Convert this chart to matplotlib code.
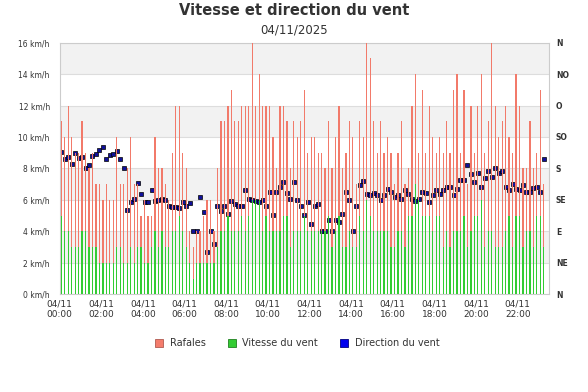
import numpy as np
import pandas as pd
import matplotlib
matplotlib.use("Agg")
import matplotlib.pyplot as plt
import matplotlib.dates as mdates
from matplotlib.lines import Line2D

# --- Données (lecture du graphique, pas de 10 min) ----------------------------
rafales = [11, 10, 12, 10, 9, 9, 11, 9, 8, 9, 7, 7, 6, 7, 6, 6, 10, 7, 7, 8, 10, 7, 7, 5, 6, 5, 5, 10,
           8, 8, 7, 6, 9, 12, 12, 9, 8, 4, 3, 4, 4, 5, 6, 6, 4, 8, 11, 11, 12, 13, 11, 11, 12, 12, 12, 16,
           12, 14, 12, 12, 12, 10, 8, 12, 12, 11, 8, 11, 10, 11, 13, 9, 10, 10, 9, 9, 8, 11, 8, 10, 12, 8, 9, 11,
           10, 7, 11, 10, 16, 15, 11, 9, 11, 9, 10, 9, 7, 9, 11, 7, 8, 12, 14, 9, 13, 9, 12, 10, 9, 10, 9,
           11, 9, 13, 14, 9, 13, 7, 12, 9, 12, 14, 9, 11, 16, 12, 10, 11, 12, 10, 9, 14, 12, 8, 8, 11, 8, 9, 13, 7]

vitesse = [5, 4, 4, 3, 3, 3, 4, 4, 3, 3, 3, 2, 2, 2, 2, 2, 3, 3, 2, 2, 3, 2, 3, 3, 2, 2, 3, 4,
           3, 4, 3, 3, 4, 4, 5, 4, 3, 2, 1, 2, 2, 2, 2, 2, 2, 3, 4, 4, 5, 4, 4, 4, 5, 4, 5, 6,
           6, 6, 4, 5, 4, 4, 4, 4, 5, 5, 3, 4, 4, 4, 5, 4, 4, 4, 4, 4, 4, 5, 3, 4, 5, 3, 3, 4,
           3, 3, 5, 4, 6, 5, 4, 4, 4, 4, 4, 3, 3, 4, 4, 3, 5, 5, 7, 6, 5, 5, 5, 4, 5, 5, 3,
           4, 3, 4, 4, 4, 5, 3, 4, 5, 5, 6, 3, 4, 4, 3, 3, 3, 4, 5, 3, 5, 5, 3, 4, 4, 3, 5, 5, 3]

direction = [204, 194, 196, 187, 202, 195, 197, 181, 185, 198, 201, 206, 211, 193, 199, 201, 205, 194, 181, 121,
             132, 137, 159, 143, 132, 132, 149, 133,
             135, 137, 135, 126, 125, 125, 123, 132, 127, 131, 90, 90, 139, 118, 61, 90, 72, 126, 119, 127,
             115, 133, 129, 127, 126, 149, 137, 135,
             133, 132, 135, 127, 146, 113, 146, 153, 160, 145, 137, 160, 135, 127, 114, 132, 101, 127, 129, 90,
             90, 107, 90, 106, 104, 115, 146, 135,
             90, 127, 156, 162, 143, 142, 145, 142, 135, 142, 150, 146, 139, 142, 136, 149, 143, 136, 133, 136,
             146, 145, 132, 142, 149, 143, 149,
             153, 154, 142, 150, 163, 163, 185, 172, 161, 173, 153, 166, 177, 168, 181, 174, 177, 154, 149, 158,
             150, 149, 156, 146, 147, 152, 153, 146, 194]

dir_labels = ["N", "NE", "E", "SE", "S", "SO", "O", "NO", "N"]

heures = pd.date_range("2025-11-04 00:05", periods=len(rafales), freq="10min")

# --- Figure --------------------------------------------------------------------
fig = plt.figure(figsize=(5.88, 3.92), dpi=100)
ax = fig.add_axes([0.1012, 0.2492, 0.8325, 0.6421])

# bandes grises alternées
for y0 in range(2, 16, 4):
    ax.axhspan(y0, y0 + 2, color="#f2f2f2", zorder=0, lw=0)
for y in range(0, 17, 2):
    ax.axhline(y, color="#dddddd", lw=0.8, zorder=0.5)

w = 0.06 / 24
ax.plot(heures, np.array(direction) / 22.5, ls="none", marker="s", ms=2.6,
        mfc="#10109a", mec="black", mew=0.5, zorder=2)
ax.bar(heures, rafales, width=w, color="#f27a6a", zorder=3)
ax.bar(heures, vitesse, width=w, color="#33cc33", zorder=4)

ax.set_ylim(0, 16)
ax.set_xlim(pd.Timestamp("2025-11-04 00:00"), pd.Timestamp("2025-11-04 23:30"))
ax.set_yticks(range(0, 17, 2))
ax.set_yticklabels([f"{v} km/h" for v in range(0, 17, 2)], fontsize=5.5, color="#333333")
ax.xaxis.set_major_locator(mdates.HourLocator(byhour=range(0, 24, 2)))
ax.xaxis.set_major_formatter(mdates.DateFormatter("%d/%m\n%H:%M"))
ax.tick_params(axis="x", length=0, pad=4, labelsize=6.5, labelcolor="#333333")
ax.tick_params(axis="y", length=0, pad=7)
for s in ax.spines.values():
    s.set_color("#cccccc")
    s.set_linewidth(0.8)

sec = ax.secondary_yaxis("right", functions=(lambda k: k * 22.5, lambda d: d / 22.5))
sec.set_yticks(range(0, 361, 45))
sec.set_yticklabels(dir_labels, fontsize=5.5, color="#333333", fontweight="bold")
sec.tick_params(length=0, pad=5)
sec.spines["right"].set_visible(False)

fig.text(0.5, 0.972, "Vitesse et direction du vent", ha="center", va="center",
         fontsize=10.5, fontweight="bold", color="#333333")
fig.text(0.5, 0.923, "04/11/2025", ha="center", va="center", fontsize=8.5, color="#333333")

handles = [
    Line2D([], [], ls="none", marker="s", ms=6, mfc="#f47c6c", mec="#b05a50", mew=0.6),
    Line2D([], [], ls="none", marker="s", ms=6, mfc="#33cc33", mec="#208020", mew=0.6),
    Line2D([], [], ls="none", marker="s", ms=6, mfc="#0000ee", mec="#000080", mew=0.6),
]
fig.legend(handles, ["Rafales", "Vitesse du vent", "Direction du vent"], loc="center",
           bbox_to_anchor=(0.505, 0.125), ncol=3, frameon=False, fontsize=7,
           handlelength=1.0, handletextpad=0.6, columnspacing=2.2, labelcolor="#333333")

fig.savefig("out.png", dpi=100)
